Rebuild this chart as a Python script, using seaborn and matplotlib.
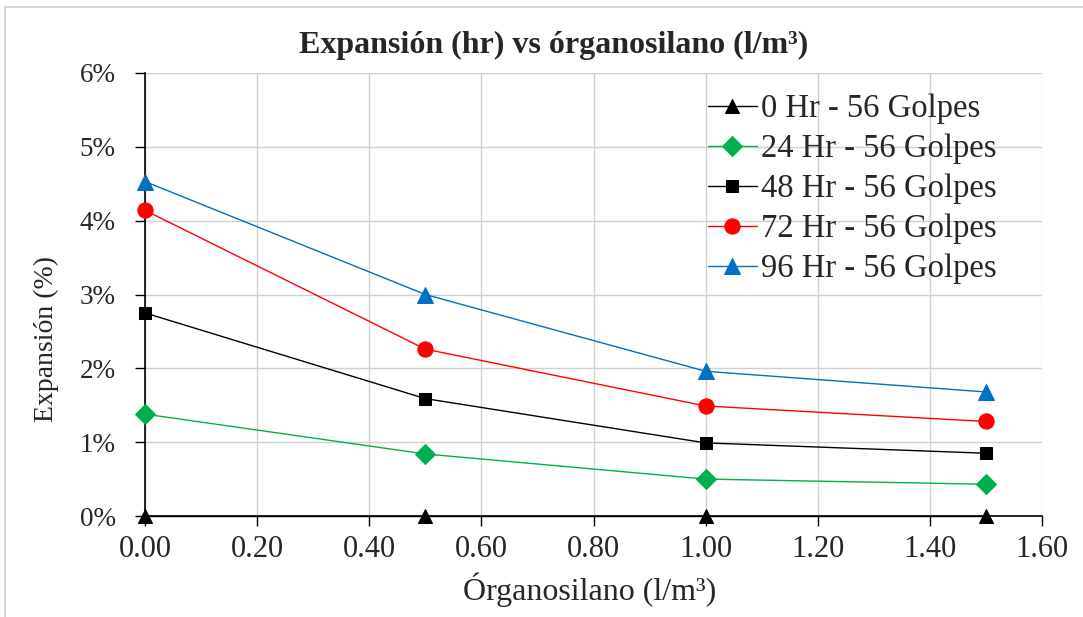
import matplotlib
matplotlib.use("Agg")
import matplotlib.pyplot as plt
import matplotlib.patches as mpatches
from matplotlib.ticker import PercentFormatter, FixedLocator
import seaborn as sns
import pandas as pd

# Dosage of organosilane (l/m3)
organosilano = [0.0, 0.5, 1.0, 1.5]

# Expansion (%) per curing time, 56 blows
exp_0h = [0.0, 0.0, 0.0, 0.0]
exp_24h = [1.38, 0.84, 0.50, 0.43]
exp_48h = [2.75, 1.59, 0.99, 0.85]
exp_72h = [4.14, 2.26, 1.49, 1.28]
exp_96h = [4.53, 3.00, 1.96, 1.68]

series_names = ["0 Hr - 56 Golpes", "24 Hr - 56 Golpes", "48 Hr - 56 Golpes",
                "72 Hr - 56 Golpes", "96 Hr - 56 Golpes"]
series_values = [exp_0h, exp_24h, exp_48h, exp_72h, exp_96h]
series_colors = ["#000000", "#00B050", "#000000", "#FF0000", "#0070C0"]
series_markers = ["^", "D", "s", "o", "^"]
marker_sizes = [10, 10, 9, 11, 11]

x_ticks = [0.0, 0.2, 0.4, 0.6, 0.8, 1.0, 1.2, 1.4, 1.6]
y_ticks = [0, 1, 2, 3, 4, 5, 6]

sns.set_style("white")
plt.rcParams["font.family"] = ["Liberation Serif", "DejaVu Serif"]

fig = plt.figure(figsize=(10.83, 6.17), dpi=100)
fig.patches.append(mpatches.Rectangle((5 / 1083, -0.1), 1.2, 1 - 7 / 617 + 0.1,
                                      transform=fig.transFigure, fill=False,
                                      edgecolor="#D0D0D0", linewidth=1.2))
ax = fig.add_axes([145 / 1083, 1 - 516 / 617, (1042 - 145) / 1083, (516 - 73) / 617])

rows = []
for name, vals in zip(series_names, series_values):
    for xv, yv in zip(organosilano, vals):
        rows.append({"Serie": name, "x": xv, "y": yv})
df = pd.DataFrame(rows)

for name, col, mk, ms in zip(series_names, series_colors, series_markers, marker_sizes):
    sub = df[df["Serie"] == name]
    sns.lineplot(data=sub, x="x", y="y", ax=ax, color=col, marker=mk,
                 markersize=ms, markeredgecolor=col, linewidth=1.0,
                 label=name, clip_on=False, zorder=3)

ax.set_xlim(0, 1.6)
ax.set_ylim(0, 6)
ax.xaxis.set_major_locator(FixedLocator(x_ticks))
ax.yaxis.set_major_locator(FixedLocator(y_ticks))
ax.set_xticklabels([f"{v:.2f}" for v in x_ticks])
ax.yaxis.set_major_formatter(PercentFormatter(decimals=0))

ax.grid(True, color="#D0D0D0", linewidth=1.0)
ax.set_axisbelow(True)
for side in ["top", "right"]:
    ax.spines[side].set_visible(False)
for side in ["left", "bottom"]:
    ax.spines[side].set_color("black")
    ax.spines[side].set_linewidth(1.2)

ax.tick_params(axis="both", which="major", direction="out",
               length=7, width=1, color="black", left=True, bottom=True)
ax.tick_params(axis="x", labelsize=22, pad=7)
ax.tick_params(axis="y", labelsize=19.5, pad=14)

ax.set_xlabel("Órganosilano (l/m³)", fontsize=23)
ax.xaxis.set_label_coords((590 - 145) / (1042 - 145), -(590 - 516) / (516 - 73))
ax.xaxis.label.set_va("center")
ax.set_ylabel("Expansión (%)", fontsize=20)
ax.yaxis.set_label_coords(-(145 - 46) / (1042 - 145), (516 - 339) / (516 - 73))
ax.yaxis.label.set_va("center")
fig.text(554 / 1083, 1 - 45 / 617, "Expansión (hr) vs órganosilano (l/m³)",
         fontsize=23, fontweight="bold", ha="center", va="center")

leg = ax.legend(loc="upper left", frameon=False, fontsize=23.5,
                handlelength=1.5, handletextpad=0.12, labelspacing=0.29,
                borderaxespad=0.0, borderpad=0.0,
                bbox_to_anchor=(708 / 1083, 1 - 94 / 617),
                bbox_transform=fig.transFigure)

fig.savefig("out.png", dpi=100)
